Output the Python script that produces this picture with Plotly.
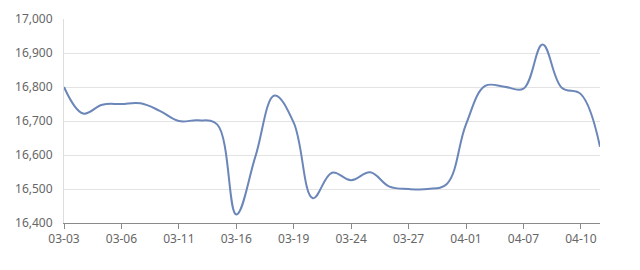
import plotly.graph_objects as go

dates = ["03-03", "03-04", "03-05", "03-06", "03-07", "03-10", "03-11", "03-12",
         "03-13", "03-16", "03-17", "03-18", "03-19", "03-20", "03-21", "03-24",
         "03-25", "03-26", "03-27", "03-28", "03-31", "04-01", "04-02", "04-03",
         "04-07", "04-08", "04-09", "04-10", "04-11"]
prices = [16800, 16722, 16748, 16750, 16752, 16730, 16700, 16702,
          16690, 16425, 16596, 16775, 16695, 16473, 16548, 16526,
          16549, 16507, 16500, 16500, 16515, 16690, 16803, 16801,
          16795, 16925, 16798, 16779, 16624]
tick_labels = ["03-03", "03-06", "03-11", "03-16", "03-19", "03-24", "03-27",
               "04-01", "04-07", "04-10"]
y_ticks = [16400, 16500, 16600, 16700, 16800, 16900, 17000]

fig = go.Figure()
fig.add_trace(go.Scatter(
    x=dates, y=prices, mode="lines",
    line=dict(color="#6b86b8", width=2, shape="spline", smoothing=1.1),
    hoverinfo="x+y",
))

font = dict(family="Noto Sans, Microsoft YaHei, sans-serif", size=12, color="#666666")

fig.update_layout(
    width=640, height=270,
    margin=dict(l=64, r=40, t=10, b=47),
    paper_bgcolor="white", plot_bgcolor="white",
    showlegend=False,
    font=font,
    xaxis=dict(
        type="category",
        range=[0, len(dates) - 1],
        tickmode="array", tickvals=tick_labels, ticktext=tick_labels,
        showgrid=False,
        showline=True, linecolor="#8a8a8a", linewidth=1,
        ticks="outside", ticklen=5, tickcolor="#8a8a8a",
        tickfont=font,
        zeroline=False,
    ),
    yaxis=dict(
        range=[16400, 17000],
        tickmode="array", tickvals=y_ticks,
        ticktext=[f"{v:,}" for v in y_ticks],
        showgrid=True, gridcolor="#e3e3e3", gridwidth=1,
        showline=True, linecolor="#dddddd", linewidth=1,
        ticks="", ticklabelstandoff=8,
        tickfont=font,
        zeroline=False,
    ),
)

fig.write_html("out.html")
